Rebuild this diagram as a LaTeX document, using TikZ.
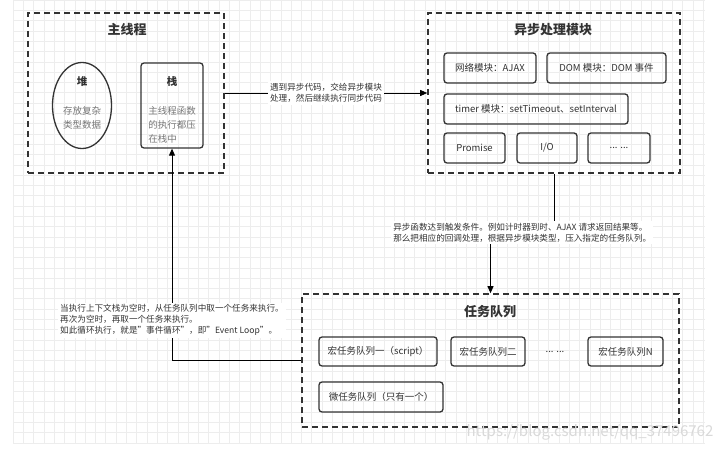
\documentclass[tikz,border=0pt]{standalone}
\usepackage{fontspec}
\setmainfont{Noto Sans CJK SC}
\usepackage{tikz}
\usetikzlibrary{arrows.meta,positioning,shapes.geometric}

\definecolor{inkgray}{HTML}{333333}
\definecolor{softgray}{HTML}{777777}
\definecolor{gridgray}{HTML}{EDEDED}

\tikzset{
  group/.style={draw=inkgray,dashed,dash pattern=on 6pt off 4pt,line width=1.6pt},
  modbox/.style={draw=inkgray,rounded corners=3pt,line width=1.3pt,minimum height=30pt,
    font=\fontsize{9.5}{11}\selectfont,text=inkgray},
  title/.style={font=\fontsize{13}{15}\selectfont\bfseries,text=inkgray},
  lbl/.style={fill=white,align=left,inner sep=2pt,text=inkgray,font=\fontsize{8.6}{11}\selectfont},
  arr/.style={draw=black,line width=0.9pt,-{Triangle[length=7pt,width=6pt]}}
}

\begin{document}
\begin{tikzpicture}[x=1pt,y=-1pt]
  \useasboundingbox (0,0) rectangle (720,449);
  \fill[white] (0,0) rectangle (720,449);

  % Background grid
  \foreach \i in {0,...,67} {
    \draw[gridgray,line width=0.5pt] (13+10.3*\i,0) -- (13+10.3*\i,443);
  }
  \foreach \j in {0,...,43} {
    \draw[gridgray,line width=0.5pt] (13,10.3*\j) -- (705,10.3*\j);
  }

  % Groups
  \node[group,minimum width=196pt,minimum height=160pt] (mainbox) at (126,93) {};
  \node[group,minimum width=252pt,minimum height=160pt] (asyncbox) at (554,93) {};
  \node[group,minimum width=377pt,minimum height=133pt] (queuebox) at (490.5,360.5) {};

  \node[title] (maintitle) at (127,30) {主线程};
  \node[title] (asynctitle) at (553,30) {异步处理模块};
  \node[title] (queuetitle) at (490,312) {任务队列};

  % Main thread: heap and stack
  \node[draw=inkgray,line width=1.3pt,ellipse,minimum width=59pt,minimum height=86pt] (heap) at (82,105.5) {};
  \node[font=\fontsize{10.5}{12}\selectfont\bfseries,text=inkgray] (heaptitle) at (82,82) {堆};
  \node[font=\fontsize{9.5}{14}\selectfont,text=softgray,align=center] (heaptext) at (82,117.5) {存放复杂\\类型数据};

  \node[modbox,minimum width=62pt,minimum height=85pt] (stack) at (172,105.5) {};
  \node[font=\fontsize{10.5}{12}\selectfont\bfseries,text=inkgray] (stacktitle) at (172,82) {栈};
  \node[font=\fontsize{9.5}{14}\selectfont,text=softgray,align=left] (stacktext) at (172,124.5) {主线程函数\\的执行都压\\在栈中};

  % Async modules
  \node[modbox,minimum width=92pt] (net) at (490,68) {网络模块：AJAX};
  \node[modbox,minimum width=119pt] (dom) at (606.5,68) {DOM 模块：DOM 事件};
  \node[modbox,minimum width=184pt] (timer) at (536,109) {timer 模块：setTimeout、setInterval};
  \node[modbox,minimum width=61pt] (promise) at (474.5,148) {Promise};
  \node[modbox,minimum width=60pt] (io) at (547,148) {I/O};
  \node[modbox,minimum width=62pt] (moremods) at (619,148) {... ...};

  % Task queues
  \node[modbox,minimum width=118pt,minimum height=29pt] (macroone) at (378,351.5) {宏任务队列一（script）};
  \node[modbox,minimum width=74pt,minimum height=29pt] (macrotwo) at (488,351.5) {宏任务队列二};
  \node[font=\fontsize{9.5}{11}\selectfont,text=inkgray] (macrodots) at (555,352) {... ...};
  \node[modbox,minimum width=75pt,minimum height=29pt] (macron) at (625.5,351.5) {宏任务队列N};
  \node[modbox,minimum width=124pt] (micro) at (381,397) {微任务队列（只有一个）};

  % Connectors
  \draw[arr] (mainbox.east) -- (asyncbox.west)
    node[lbl,midway] (handoff) {遇到异步代码，交给异步模块\\处理，然后继续执行同步代码};
  \draw[arr] (asyncbox.south) -- ++(0,59) -| (queuebox.north)
    node[lbl,pos=0.25] (callback) {异步函数达到触发条件。例如计时器到时、AJAX 请求返回结果等。\\那么把相应的回调处理，根据异步模块类型，压入指定的任务队列。};
  \draw[arr] (queuebox.west) -| (stack.south)
    node[lbl,pos=0.595] (eventloop) {当执行上下文栈为空时，从任务队列中取一个任务来执行。\\再次为空时，再取一个任务来执行。\\如此循环执行，就是"事件循环"，即"Event Loop"。};

  % Watermark
  \node[text=gray!30,font=\fontsize{15}{15}\selectfont] (mark) at (590,432) {https://blog.csdn.net/qq\_37496762};
\end{tikzpicture}
\end{document}
